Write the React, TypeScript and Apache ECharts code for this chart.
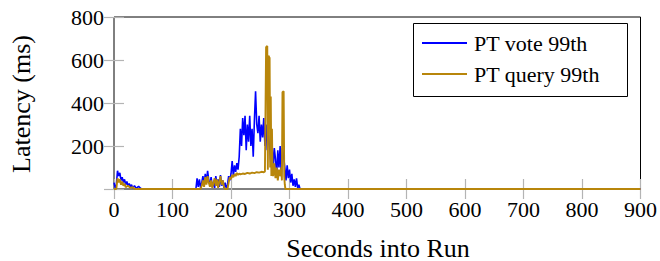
import React, { useEffect, useRef } from "react";
import * as echarts from "echarts";

const xTicks = [0, 100, 200, 300, 400, 500, 600, 700, 800, 900];
const yTicks = [200, 400, 600, 800];

// [seconds, latency ms]
const voteSeries: number[][] = [
  [0, 30], [2, 5], [4, 20], [6, 85], [8, 60], [10, 75], [12, 40], [14, 55], [16, 30], [18, 45], [20, 20],
  [22, 35], [24, 15], [26, 25], [28, 10], [30, 20], [32, 5], [35, 15], [38, 3], [42, 12], [46, 2], [48, 0],
  [140, 0], [142, 50], [144, 10], [146, 45], [148, 5], [150, 30], [152, 60], [154, 20], [156, 70], [158, 30],
  [160, 85], [162, 40], [164, 20], [166, 55], [168, 10], [170, 30], [172, 5], [174, 60], [176, 20], [178, 45],
  [180, 10], [182, 65], [184, 15], [186, 40], [188, 5], [190, 30], [192, 0], [194, 20], [196, 60], [198, 40],
  [200, 70], [202, 130], [204, 60], [206, 110], [208, 80], [210, 120], [212, 90], [214, 150], [216, 280],
  [218, 200], [220, 330], [222, 250], [224, 340], [226, 180], [228, 300], [230, 220], [232, 340], [234, 200],
  [236, 280], [238, 150], [240, 320], [242, 455], [244, 300], [246, 260], [248, 340], [250, 220], [252, 300],
  [254, 240], [256, 330], [258, 200], [260, 300], [262, 180], [264, 250], [266, 200], [268, 120], [270, 220],
  [272, 90], [274, 190], [276, 140], [278, 60], [280, 180], [282, 100], [284, 200], [286, 60], [288, 190],
  [290, 150], [292, 100], [294, 40], [296, 110], [298, 50], [300, 90], [302, 30], [304, 70], [306, 15],
  [308, 45], [310, 10], [312, 50], [314, 5], [316, 20], [318, 0], [900, 0],
];

const querySeries: number[][] = [
  [0, 0], [4, 0], [6, 50], [8, 30], [10, 45], [12, 20], [14, 35], [16, 15], [18, 25], [20, 8], [24, 15],
  [28, 5], [32, 8], [36, 0],
  [148, 0], [150, 15], [152, 40], [154, 10], [156, 55], [158, 20], [160, 60], [162, 30], [164, 10], [166, 40],
  [168, 5], [170, 30], [172, 50], [174, 15], [176, 45], [178, 5], [180, 35], [182, 60], [184, 20], [186, 40],
  [188, 10], [190, 0], [194, 0], [196, 30], [198, 55], [200, 45], [202, 65], [204, 55], [206, 70], [208, 60],
  [210, 75], [212, 65], [214, 72], [216, 68], [220, 72], [224, 70], [228, 75], [232, 72], [236, 76], [240, 74],
  [244, 78], [248, 76], [252, 80], [256, 78], [258, 82], [260, 660], [262, 665], [263, 90], [264, 620],
  [266, 610], [267, 100], [268, 430], [269, 60], [270, 280], [271, 80], [272, 60], [274, 120], [276, 50],
  [278, 100], [280, 40], [282, 90], [284, 60], [286, 100], [287, 40], [288, 450], [290, 455], [291, 60],
  [292, 20], [293, 0], [900, 0],
];

const FONT = "'Liberation Serif', 'Times New Roman', serif";

export default function App() {
  const ref = useRef<HTMLDivElement>(null);
  useEffect(() => {
    if (!ref.current) return;
    const chart = echarts.init(ref.current, undefined, { renderer: "svg" });
    const tick = { show: true, inside: true, length: 10, lineStyle: { color: "#b4b4b4", width: 1.2 } };
    chart.setOption({
      animation: false,
      backgroundColor: "#ffffff",
      textStyle: { fontFamily: FONT },
      grid: { left: 114, right: 18, top: 17, bottom: 72, show: true, borderColor: "#000", borderWidth: 1, backgroundColor: "transparent" },
      xAxis: [
        {
          type: "value", min: 0, max: 900, interval: 100, position: "bottom",
          axisLine: { show: false }, axisTick: tick, splitLine: { show: false },
          axisLabel: { color: "#000", fontSize: 22, fontFamily: FONT, margin: 9, formatter: (v: number) => (xTicks.includes(v) ? String(v) : "") },
        },
        {
          type: "value", min: 0, max: 900, interval: 100, position: "top",
          axisLine: { show: false }, axisTick: tick, splitLine: { show: false }, axisLabel: { show: false },
        },
      ],
      yAxis: [
        {
          type: "value", min: 0, max: 800, interval: 200, position: "left",
          axisLine: { show: false }, axisTick: tick, splitLine: { show: false },
          axisLabel: { color: "#000", fontSize: 22, fontFamily: FONT, margin: 10, formatter: (v: number) => (yTicks.includes(v) ? String(v) : "") },
        },
        {
          type: "value", min: 0, max: 800, interval: 200, position: "right",
          axisLine: { show: false }, axisTick: tick, splitLine: { show: false }, axisLabel: { show: false },
        },
      ],
      legend: {
        orient: "vertical", left: 422, top: 32, padding: 0, icon: "rect", itemWidth: 45, itemHeight: 2, itemGap: 9, z: 20,
        textStyle: { fontSize: 22, fontFamily: FONT, color: "#000", padding: [0, 0, 0, 2] },
        data: ["PT vote 99th", "PT query 99th"],
      },
      graphic: [
        { type: "rect", shape: { x: 413.5, y: 23.5, width: 214, height: 73 }, style: { fill: "#fff", stroke: "#000", lineWidth: 1 }, z: 5 },
        { type: "text", x: 378, y: 248, style: { text: "Seconds into Run", fontSize: 26, fontFamily: FONT, fill: "#000", textAlign: "center", textVerticalAlign: "middle" } },
        { type: "text", x: 21, y: 104, rotation: Math.PI / 2, style: { text: "Latency (ms)", fontSize: 26, fontFamily: FONT, fill: "#000", textAlign: "center", textVerticalAlign: "middle" } },
      ],
      series: [
        { name: "PT vote 99th", type: "line", data: voteSeries, showSymbol: false, symbol: "none", color: "#0000ff", lineStyle: { color: "#0000ff", width: 1.6 }, z: 2 },
        { name: "PT query 99th", type: "line", data: querySeries, showSymbol: false, symbol: "none", color: "#b8860b", lineStyle: { color: "#b8860b", width: 1.9 }, z: 3 },
      ],
    });
    return () => chart.dispose();
  }, []);
  return <div ref={ref} style={{ position: "fixed", left: 0, top: 0, width: 660, height: 261 }} />;
}
